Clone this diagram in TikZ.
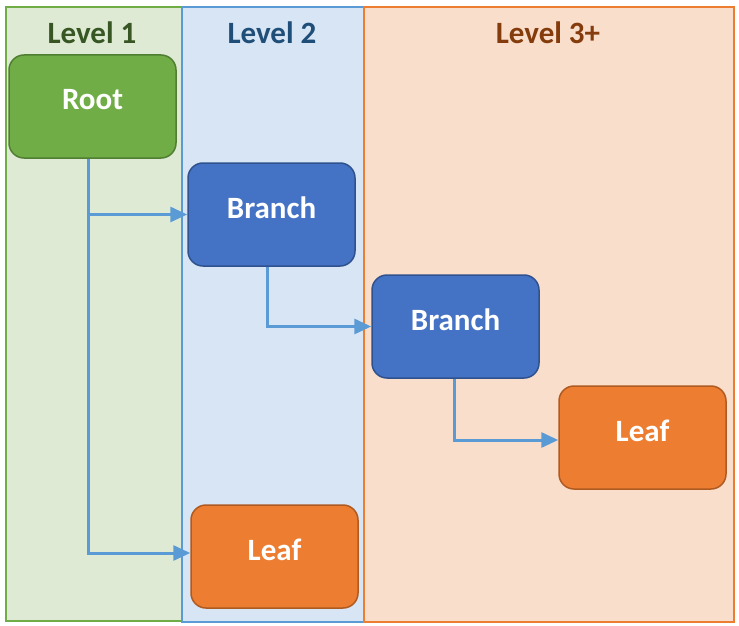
\documentclass[tikz,border=0pt]{standalone}
\usepackage{fontspec}
\setmainfont{Carlito}
\usetikzlibrary{arrows.meta}
\definecolor{g1fill}{HTML}{DFEAD5}
\definecolor{g1line}{HTML}{70AD47}
\definecolor{b1fill}{HTML}{D7E5F4}
\definecolor{b1line}{HTML}{5B9BD5}
\definecolor{o1fill}{HTML}{FADECC}
\definecolor{o1line}{HTML}{ED7D31}
\definecolor{t1col}{HTML}{375623}
\definecolor{t2col}{HTML}{1F4E79}
\definecolor{t3col}{HTML}{843C0C}
\definecolor{rootfill}{HTML}{70AD47}
\definecolor{rootline}{HTML}{507E32}
\definecolor{brfill}{HTML}{4472C4}
\definecolor{brline}{HTML}{2F528F}
\definecolor{lffill}{HTML}{ED7D31}
\definecolor{lfline}{HTML}{AE5A21}
\definecolor{conncol}{HTML}{5B9BD5}
\begin{document}
\begin{tikzpicture}[x=1pt,y=-1pt,
  lane/.style={draw, line width=2pt, anchor=north west, inner sep=0pt},
  title/.style={font=\fontsize{31}{37}\selectfont\bfseries, inner sep=0pt},
  box/.style={rounded corners=15pt, line width=1.5pt, minimum width=167pt, minimum height=103pt, inner sep=0pt},
  lbl/.style={font=\fontsize{31}{37}\selectfont\bfseries, text=white, yshift=7pt, inner sep=0pt},
  conn/.style={draw=conncol, line width=3pt, -{Triangle[length=17pt,width=15pt]}}]
\useasboundingbox (0,0) rectangle (739,626);
\fill[white] (0,0) rectangle (739,626);
% lanes
\node[lane, fill=g1fill, draw=g1line, minimum width=176pt, minimum height=614pt] (lane1) at (5,6) {};
\node[lane, fill=b1fill, draw=b1line, minimum width=182pt, minimum height=615pt] (lane2) at (181,6) {};
\node[lane, fill=o1fill, draw=o1line, minimum width=370pt, minimum height=615pt] (lane3) at (363,6) {};
% titles
\node[title, text=t1col] (t1) at (92,33) {Level 1};
\node[title, text=t2col] (t2) at (272,33) {Level 2};
\node[title, text=t3col] (t3) at (548,33) {Level 3+};
% boxes
\node[box, fill=rootfill, draw=rootline, label={[lbl]center:Root}] (root) at (92.5,106.5) {};
\node[box, fill=brfill, draw=brline, label={[lbl]center:Branch}] (br1) at (271.5,214.5) {};
\node[box, fill=brfill, draw=brline, label={[lbl]center:Branch}] (br2) at (455.5,326.5) {};
\node[box, fill=lffill, draw=lfline, label={[lbl]center:Leaf}] (leaf1) at (642.5,437.5) {};
\node[box, fill=lffill, draw=lfline, label={[lbl]center:Leaf}] (leaf2) at (274.5,556.5) {};
% connectors
\coordinate (rs) at ([xshift=-4.5pt]root.south);
\coordinate (j1) at (rs |- br1.west);
\draw[conn] (rs) |- ([yshift=3.5pt]leaf2.west);
\draw[conn] (j1) -- (br1.west);
\draw[conn] ([xshift=-4.5pt]br1.south) |- (br2.west);
\draw[conn] ([xshift=-1.5pt]br2.south) |- ([yshift=-2.5pt]leaf1.west);
\end{tikzpicture}
\end{document}
